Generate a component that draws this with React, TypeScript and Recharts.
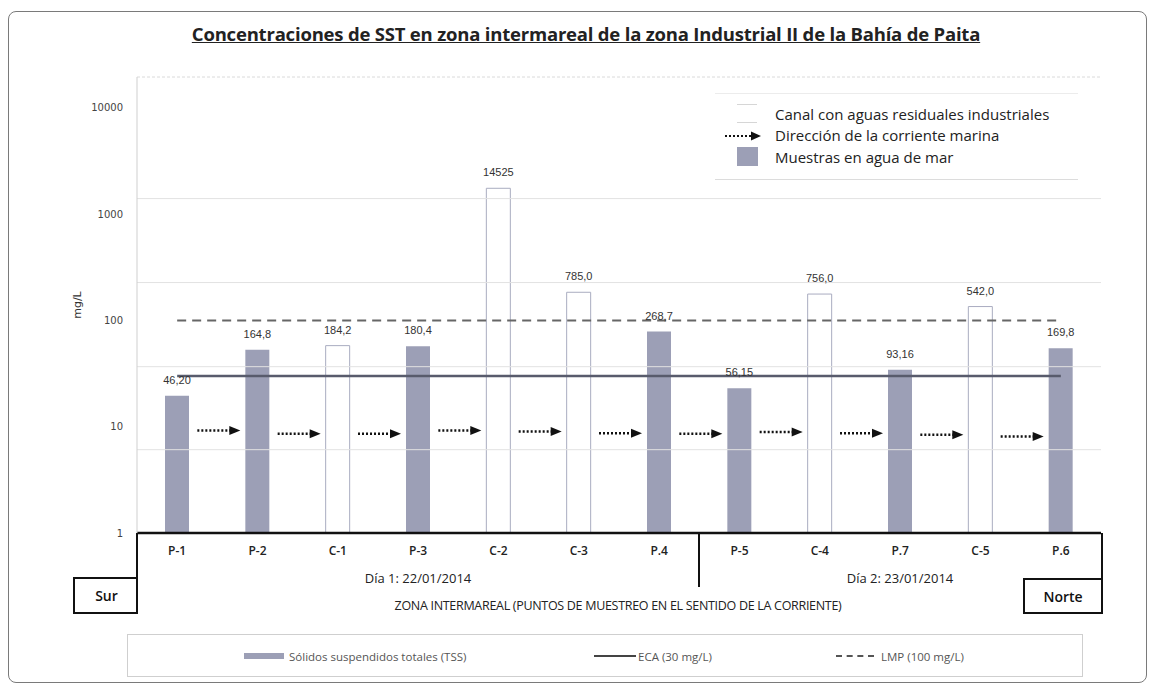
import React from 'react';
import {
  ComposedChart,
  Bar,
  Line,
  Scatter,
  XAxis,
  YAxis,
  ReferenceLine,
  LabelList,
  Cell,
  Legend,
} from 'recharts';

// ---------- data ----------
const categories = ['P-1', 'P-2', 'C-1', 'P-3', 'C-2', 'C-3', 'P.4', 'P-5', 'C-4', 'P.7', 'C-5', 'P.6'];
const barValues = [19.6, 53.1, 57.9, 57.0, 1750, 184, 78.5, 23.0, 177, 34.4, 135, 54.6];
const barLabels = ['46,20', '164,8', '184,2', '180,4', '14525', '785,0', '268,7', '56,15', '756,0', '93,16', '542,0', '169,8'];
const ecaValues = [30, 30, 30, 30, 30, 30, 30, 30, 30, 30, 30, 30];
const lmpValues = [100, 100, 100, 100, 100, 100, 100, 100, 100, 100, 100, 100];
const arrowPositions = [1, 2, 3, 4, 5, 6, 7, 8, 9, 10, 11];
const arrowValues = [9.2, 8.6, 8.6, 9.2, 9.0, 8.7, 8.6, 8.9, 8.7, 8.4, 8.1];
const yTicks = [1, 10, 100, 1000, 10000];
const gridValues = [1400, 227, 36.7, 6.08];
const dayLabels = ['Día 1: 22/01/2014', 'Día 2: 23/01/2014'];

const data = categories.map((name, i) => ({
  name,
  tss: barValues[i],
  label: barLabels[i],
  eca: ecaValues[i],
  lmp: lmpValues[i],
}));
const arrows = arrowPositions.map((x, i) => ({ x, y: arrowValues[i] }));

const BAR_FILL = '#9c9fb6';
const FONT = '"Open Sans", "Liberation Sans", sans-serif';

const ArrowShape = (props: any) => {
  const { cx, cy } = props;
  if (cx == null || cy == null) return null;
  return (
    <g>
      <line x1={cx - 20} y1={cy} x2={cx + 13} y2={cy} stroke="#111" strokeWidth={2.5} strokeDasharray="2 2" />
      <path d={`M${cx + 12},${cy - 4.5} L${cx + 23},${cy} L${cx + 12},${cy + 4.5} Z`} fill="#111" />
    </g>
  );
};

const legendLeft: Record<string, number> = { tss: 116, eca: 466, lmp: 708 };

const renderLegend = (props: any) => {
  const payload = (props.payload || []).filter((p: any) => p.type !== 'none');
  return (
    <div
      style={{
        position: 'relative',
        width: 956,
        height: 43,
        border: '1px solid #cfcfcf',
        boxSizing: 'border-box',
        background: '#fff',
        fontFamily: FONT,
        fontSize: 11.5,
        color: '#555',
      }}
    >
      {payload.map((p: any) => {
        const key = p.dataKey as string;
        const left = legendLeft[key] ?? 0;
        let icon: React.ReactNode = null;
        if (key === 'tss') {
          icon = <span style={{ display: 'inline-block', width: 40, height: 6, background: BAR_FILL, marginRight: 5 }} />;
        } else if (key === 'eca') {
          icon = <span style={{ display: 'inline-block', width: 42, height: 0, borderTop: '2px solid #444', marginRight: 2 }} />;
        } else {
          icon = <span style={{ display: 'inline-block', width: 38, height: 0, borderTop: '2px dashed #555', marginRight: 7 }} />;
        }
        return (
          <div
            key={key}
            style={{ position: 'absolute', left, top: 12, height: 18, display: 'flex', alignItems: 'center', whiteSpace: 'nowrap' }}
          >
            {icon}
            <span>{p.value}</span>
          </div>
        );
      })}
    </div>
  );
};

const abs = (s: React.CSSProperties): React.CSSProperties => ({ position: 'absolute', pointerEvents: 'none', ...s });

export default function App() {
  return (
    <div style={{ position: 'absolute', left: 0, top: 0, width: 1155, height: 691, background: '#fff', fontFamily: FONT }}>
      {/* outer frame */}
      <div style={abs({ left: 8, top: 11, width: 1139, height: 672, border: '1.5px solid #7a7a7a', borderRadius: 8, boxSizing: 'border-box' })} />

      {/* title */}
      <div
        style={abs({
          left: 0,
          top: 21,
          width: 1172,
          textAlign: 'center',
          fontSize: 18.5,
          fontWeight: 700,
          color: '#222',
          textDecoration: 'underline',
          whiteSpace: 'nowrap',
          letterSpacing: -0.2,
        })}
      >
        Concentraciones de SST en zona intermareal de la zona Industrial II de la Bahía de Paita
      </div>

      <div style={abs({ left: 0, top: 0 })}>
        <ComposedChart width={1155} height={691} data={data} margin={{ top: 76, right: 54, bottom: 128, left: 17 }}>
          <XAxis
            dataKey="name"
            xAxisId="cat"
            height={30}
            tickSize={0}
            tickMargin={13}
            axisLine={{ stroke: '#111', strokeWidth: 2.5 }}
            tickLine={false}
            interval={0}
            tick={{ fontFamily: FONT, fontSize: 12, fontWeight: 600, fill: '#222' }}
          />
          <XAxis
            xAxisId="num"
            dataKey="x"
            type="number"
            domain={[0, 12]}
            allowDataOverflow
            orientation="top"
            height={1}
            tick={false}
            tickLine={false}
            axisLine={{ stroke: '#dadada', strokeDasharray: '3 2' }}
          />
          <YAxis
            scale="log"
            domain={[1, 19500]}
            allowDataOverflow
            ticks={yTicks}
            width={120}
            tickSize={0}
            tickMargin={14}
            tickLine={false}
            axisLine={{ stroke: '#cfcfcf' }}
            tick={{ fontFamily: '"DejaVu Sans", sans-serif', fontSize: 10, fill: '#444' }}
            label={{ value: 'mg/L', angle: -90, position: 'center', fontFamily: '"DejaVu Sans", sans-serif', fontSize: 11, fill: '#333' }}
          />
          <YAxis yAxisId="right" orientation="right" width={0} domain={[0, 1]} tick={false} tickLine={false} axisLine={{ stroke: '#c8cad8' }} />

          {gridValues.map((v) => (
            <ReferenceLine key={v} y={v} xAxisId="cat" stroke="#e2e2e2" strokeWidth={1} />
          ))}

          <Line
            xAxisId="cat"
            dataKey="lmp"
            name="LMP (100 mg/L)"
            stroke="#666"
            strokeWidth={2}
            strokeDasharray="9 6"
            dot={false}
            activeDot={false}
            isAnimationActive={false}
            legendType="plainline"
          />
          <Line
            xAxisId="cat"
            dataKey="eca"
            name="ECA (30 mg/L)"
            stroke="#585b6c"
            strokeWidth={2.5}
            dot={false}
            activeDot={false}
            isAnimationActive={false}
            legendType="line"
          />
          <Bar xAxisId="cat" dataKey="tss" name="Sólidos suspendidos totales (TSS)" barSize={24} isAnimationActive={false} legendType="rect" fill={BAR_FILL}>
            {data.map((d) =>
              d.name.startsWith('C') ? (
                <Cell key={d.name} fill="#ffffff" fillOpacity={0.6} stroke="#a9acc0" strokeWidth={1} />
              ) : (
                <Cell key={d.name} fill={BAR_FILL} />
              )
            )}
            <LabelList dataKey="label" position="top" offset={12} style={{ fontFamily: '"Liberation Sans", sans-serif', fontSize: 11, fill: '#333' }} />
          </Bar>
          <Scatter
            xAxisId="num"
            data={arrows}
            dataKey="y"
            name="Dirección"
            shape={ArrowShape}
            isAnimationActive={false}
            legendType="none"
          />
          <Legend
            verticalAlign="middle"
            layout="horizontal"
            content={renderLegend}
            wrapperStyle={{ position: 'absolute', left: 127, top: 634, width: 956, height: 43 }}
          />
        </ComposedChart>
      </div>

      {/* category table decorations */}
      <div style={abs({ left: 136, top: 533, width: 2, height: 81, background: '#111' })} />
      <div style={abs({ left: 1101, top: 533, width: 2, height: 81, background: '#111' })} />
      <div style={abs({ left: 698, top: 533, width: 2, height: 54, background: '#111' })} />
      <div
        style={abs({
          left: 73, top: 577, width: 65, height: 37, border: '2px solid #111', borderRight: 'none', boxSizing: 'border-box',
          display: 'flex', alignItems: 'center', justifyContent: 'center', fontSize: 14, fontWeight: 600, color: '#111',
        })}
      >
        Sur
      </div>
      <div
        style={abs({
          left: 1023, top: 578, width: 80, height: 36, border: '2px solid #111', boxSizing: 'border-box',
          display: 'flex', alignItems: 'center', justifyContent: 'center', fontSize: 14, fontWeight: 600, color: '#111',
        })}
      >
        Norte
      </div>
      <div style={abs({ left: 318, top: 569, width: 200, textAlign: 'center', fontSize: 13, color: '#222' })}>{dayLabels[0]}</div>
      <div style={abs({ left: 800, top: 569, width: 200, textAlign: 'center', fontSize: 13, color: '#222' })}>{dayLabels[1]}</div>
      <div style={abs({ left: 218, top: 597, width: 800, textAlign: 'center', fontSize: 12.5, color: '#222', whiteSpace: 'nowrap', letterSpacing: -0.3 })}>
        ZONA INTERMAREAL (PUNTOS DE MUESTREO EN EL SENTIDO DE LA CORRIENTE)
      </div>

      {/* note box */}
      <div
        style={abs({
          left: 715, top: 93, width: 363, height: 87, borderTop: '1px solid #ececec', borderBottom: '1px solid #dcdcdc',
          boxSizing: 'border-box', background: '#fff', fontSize: 15, color: '#222',
        })}
      >
        <div style={{ position: 'absolute', left: 22, top: 10, width: 20, height: 19, borderTop: '1px solid #d6d6d6', borderBottom: '1px solid #d6d6d6', boxSizing: 'border-box' }} />
        <div style={{ position: 'absolute', left: 60, top: 10, whiteSpace: 'nowrap' }}>Canal con aguas residuales industriales</div>
        <svg style={{ position: 'absolute', left: 8, top: 35 }} width={40} height={14}>
          <line x1={2} y1={7} x2={28} y2={7} stroke="#111" strokeWidth={2} strokeDasharray="2 2" />
          <path d="M28,2.5 L38,7 L28,11.5 Z" fill="#111" />
        </svg>
        <div style={{ position: 'absolute', left: 60, top: 31, whiteSpace: 'nowrap' }}>Dirección de la corriente marina</div>
        <div style={{ position: 'absolute', left: 22, top: 53, width: 21, height: 19, background: BAR_FILL }} />
        <div style={{ position: 'absolute', left: 60, top: 53, whiteSpace: 'nowrap' }}>Muestras en agua de mar</div>
      </div>
    </div>
  );
}
